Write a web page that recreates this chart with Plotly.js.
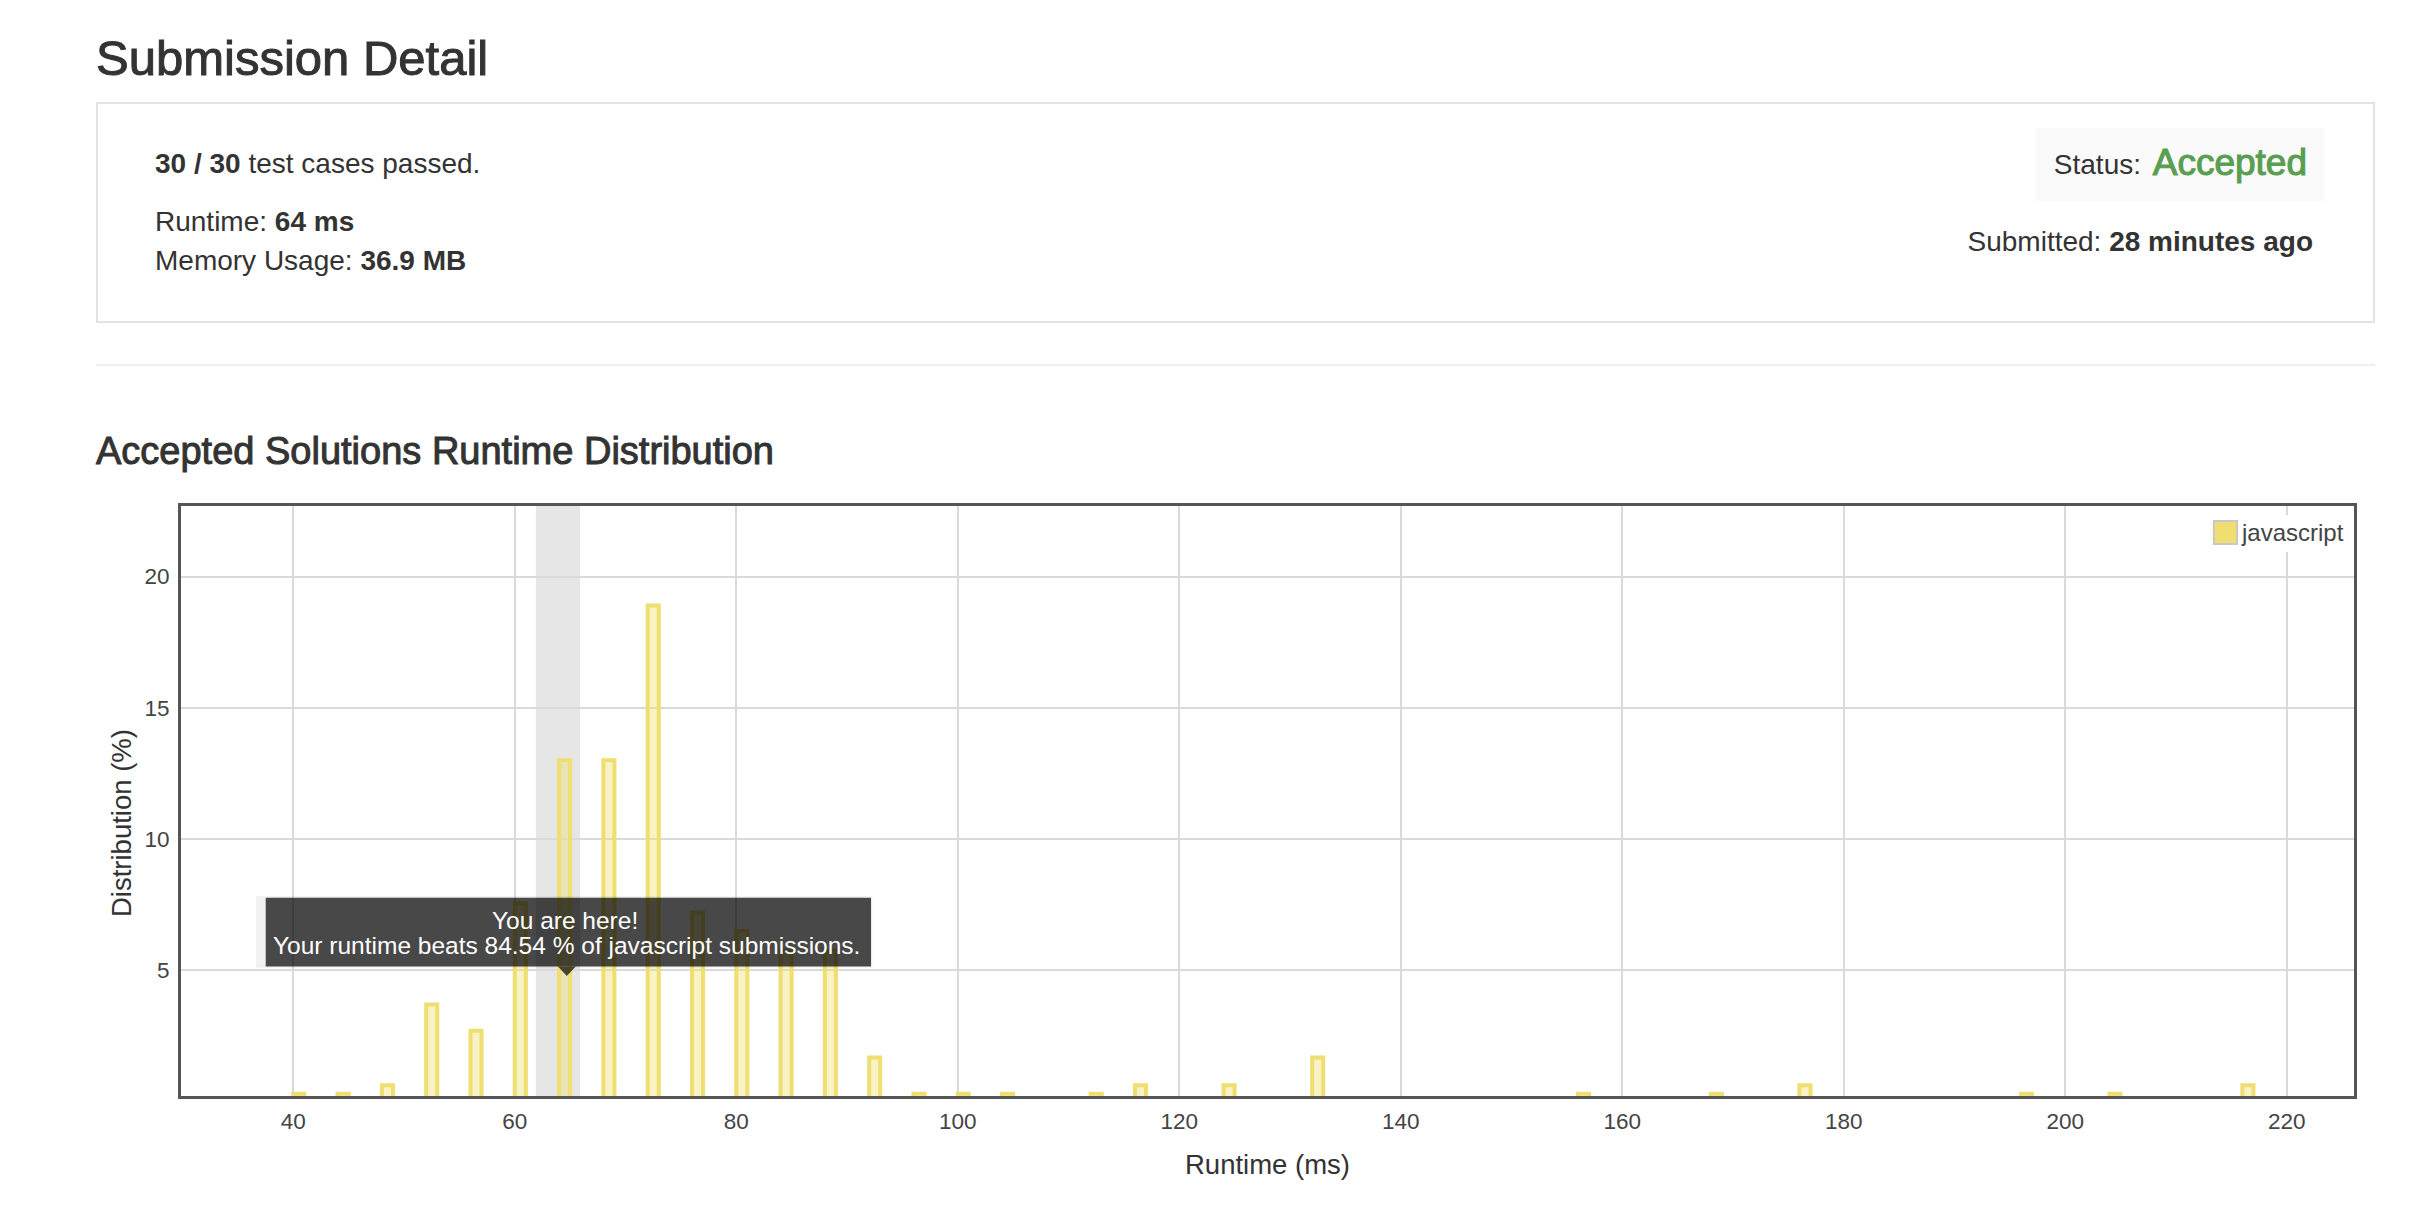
<!DOCTYPE html>
<html>
<head>
<meta charset="utf-8">
<script src="https://cdn.plot.ly/plotly-3.0.1.min.js"></script>
<style>
  html, body { margin:0; padding:0; background:#fff; }
  body { width:2424px; height:1210px; overflow:hidden; position:relative;
         font-family:'Liberation Sans', Arial, Helvetica, sans-serif; color:#333; }
  #chart { position:absolute; left:0; top:0; width:2424px; height:1210px; }
  .abs { position:absolute; white-space:nowrap; line-height:1; z-index:2; }
  .med { -webkit-text-stroke:1px #333; }
  b { font-weight:bold; }
</style>
</head>
<body>
<div id="chart"></div>

<div class="abs med" style="left:96px; top:33.5px; font-size:49px;">Submission Detail</div>
<div class="abs" style="left:96px; top:102px; width:2279px; height:221px; box-sizing:border-box; border:2px solid #e3e3e3; z-index:1;"></div>
<div class="abs" style="left:155px; top:150.3px; font-size:28px;"><b>30 / 30</b> test cases passed.</div>
<div class="abs" style="left:155px; top:208.3px; font-size:28px;">Runtime: <b>64 ms</b></div>
<div class="abs" style="left:155px; top:247.3px; font-size:28px;">Memory Usage: <b>36.9 MB</b></div>

<div class="abs" style="left:2036px; top:128px; width:288px; height:73px; background:#fafafa; z-index:1;"></div>
<div class="abs" style="right:283px; top:151.3px; font-size:28px;">Status:</div>
<div class="abs" style="right:117px; top:143.7px; font-size:37px; color:#5a9e52; -webkit-text-stroke:1.1px #5a9e52;">Accepted</div>
<div class="abs" style="right:111px; top:228.3px; font-size:28px;">Submitted: <b>28 minutes ago</b></div>

<div class="abs" style="left:96px; top:364px; width:2279px; height:2px; background:#eeeeee;"></div>
<div class="abs med" style="left:96px; top:431.8px; font-size:38px;">Accepted Solutions Runtime Distribution</div>

<script>
// ---- data ----
const runtimes = [40, 44, 48, 52, 56, 60, 64, 68, 72, 76, 80, 84, 88, 92, 96, 100, 104, 112, 116, 124, 132, 156, 168, 176, 196, 204, 216];
const distribution = [0.3, 0.3, 0.62, 3.7, 2.7, 7.55, 13.0, 13.0, 18.9, 7.2, 6.5, 5.75, 5.75, 1.68, 0.3, 0.3, 0.3, 0.3, 0.62, 0.62, 1.68, 0.3, 0.3, 0.62, 0.3, 0.3, 0.62];
const language = 'javascript';
const myRuntime = 64;
const beatsPercent = 84.54;
const xTitle = 'Runtime (ms)';
const yTitle = 'Distribution (%)';
const tipLine1 = 'You are here!';
const tipLine2 = 'Your runtime beats ' + beatsPercent + ' % of ' + language + ' submissions.';

// ---- styles ----
const FONT = "'Liberation Sans', Arial, Helvetica, sans-serif";
const barLine = 'rgb(239,222,112)';
const barFill = 'rgba(240,222,110,0.4)';

const trace = {
  type: 'bar',
  name: language,
  x: runtimes,
  y: distribution,
  width: 1,
  offset: 0,
  marker: { color: barFill, line: { color: barLine, width: 4 } },
  hoverinfo: 'skip',
  showlegend: false
};

const tipX = myRuntime + 0.7;

const layout = {
  width: 2424,
  height: 1210,
  margin: { l: 181, r: 70, t: 506, b: 114, pad: 0 },
  paper_bgcolor: 'rgba(0,0,0,0)',
  plot_bgcolor: '#ffffff',
  font: { family: FONT, color: '#444' },
  showlegend: false,
  bargap: 0,
  xaxis: {
    range: [29.86, 226.08],
    dtick: 20, tick0: 0,
    showgrid: true, gridcolor: '#dadada', gridwidth: 2,
    zeroline: false,
    showline: true, linecolor: '#555555', linewidth: 3, mirror: true,
    ticks: '',
    ticklabelstandoff: 3,
    tickfont: { size: 22.5, color: '#444', family: FONT },
    title: { text: xTitle, font: { size: 27.5, color: '#333', family: FONT }, standoff: 22 },
    automargin: false,
    fixedrange: true
  },
  yaxis: {
    range: [0.21, 22.69],
    dtick: 5, tick0: 0,
    showgrid: true, gridcolor: '#dadada', gridwidth: 2,
    zeroline: false,
    showline: true, linecolor: '#555555', linewidth: 3, mirror: true,
    ticks: '',
    ticklabelstandoff: 4,
    tickfont: { size: 22.5, color: '#444', family: FONT },
    automargin: false,
    fixedrange: true
  },
  shapes: [
    // "your runtime" highlight band
    { type: 'rect', layer: 'below', xref: 'x', yref: 'paper',
      x0: myRuntime - 2.1, x1: myRuntime + 1.9, y0: 0, y1: 1,
      fillcolor: '#e6e6e6', line: { width: 0 } },
    // tooltip outer light frame
    { type: 'rect', layer: 'above', xref: 'x', yref: 'y',
      x0: 36.63, x1: 92.29, y0: 5.10, y1: 7.83,
      fillcolor: 'rgba(0,0,0,0.05)', line: { width: 0 } },
    // tooltip dark box
    { type: 'rect', layer: 'above', xref: 'x', yref: 'y',
      x0: 37.51, x1: 92.17, y0: 5.14, y1: 7.76,
      fillcolor: 'rgba(0,0,0,0.7)', line: { width: 0 } },
    // tooltip arrow
    { type: 'path', layer: 'above', xref: 'x', yref: 'y',
      path: 'M' + (tipX - 0.8) + ',5.14 L' + (tipX + 0.8) + ',5.14 L' + tipX + ',4.78 Z',
      fillcolor: 'rgba(0,0,0,0.7)', line: { width: 0 } },
    // legend background
    { type: 'rect', layer: 'above', xref: 'paper', yref: 'paper',
      x0: 0.9314, x1: 0.9982, y0: 0.922, y1: 0.9847,
      fillcolor: '#ffffff', line: { width: 0 } },
    // legend swatch
    { type: 'rect', layer: 'above', xref: 'paper', yref: 'paper',
      x0: 0.9355, x1: 0.9462, y0: 0.9355, y1: 0.9747,
      fillcolor: 'rgb(239,223,113)', line: { color: '#c8c8c8', width: 2 } }
  ],
  annotations: [
    { xref: 'paper', yref: 'paper', x: -0.0276, y: 0.4627, xanchor: 'center', yanchor: 'middle',
      text: yTitle, textangle: -90, showarrow: false,
      font: { size: 27.5, color: '#333', family: FONT } },
    { xref: 'paper', yref: 'paper', x: 0.9472, y: 0.9559, xanchor: 'left', yanchor: 'middle',
      text: language, showarrow: false,
      font: { size: 24, color: '#444', family: FONT } },
    { xref: 'x', yref: 'y', x: myRuntime + 0.55, y: 6.91, xanchor: 'center', yanchor: 'middle',
      text: tipLine1, showarrow: false,
      font: { size: 24.5, color: '#ffffff', family: FONT } },
    { xref: 'x', yref: 'y', x: myRuntime + 0.7, y: 5.96, xanchor: 'center', yanchor: 'middle',
      text: tipLine2, showarrow: false,
      font: { size: 24.5, color: '#ffffff', family: FONT } }
  ]
};

Plotly.newPlot('chart', [trace], layout, { staticPlot: true, displayModeBar: false });
</script>
</body>
</html>
